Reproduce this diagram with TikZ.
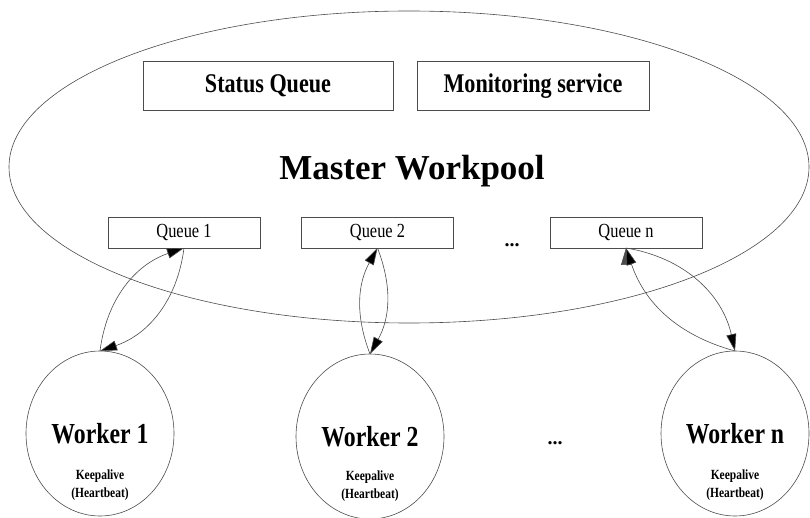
\documentclass[tikz,border=0pt]{standalone}
\usepackage{fontspec}
\setmainfont{Liberation Serif}
\newfontfamily\narrowserif{Liberation Serif}[FakeStretch=0.82]
\usepackage{tikz}
\usetikzlibrary{shapes.geometric,arrows.meta}

\tikzset{
  frame/.style={draw=black!70, line width=0.6pt, inner sep=0pt, outer sep=0pt},
  svcbox/.style={frame, minimum height=49pt, font=\narrowserif\fontsize{27}{32}\selectfont\bfseries},
  qbox/.style={frame, minimum width=152pt, minimum height=31pt, font=\narrowserif\fontsize{20}{24}\selectfont},
  worker/.style={frame, ellipse, minimum width=148pt, minimum height=165pt},
  wname/.style={anchor=base, font=\narrowserif\fontsize{29}{34}\selectfont\bfseries},
  wnote/.style={anchor=base, font=\narrowserif\fontsize{14}{16}\selectfont\bfseries},
  dots/.style={anchor=base, font=\fontsize{20}{24}\selectfont\bfseries},
  link/.style={draw=black!70, line width=0.6pt, -{Triangle[length=17pt,width=10pt]}}
}

\begin{document}
\begin{tikzpicture}[x=1pt,y=1pt]
        \useasboundingbox (0,0) rectangle (810,517);
        % master pool
        \draw[black!70, line width=0.6pt] (409,350) ellipse [x radius=400, y radius=156];
        \node[svcbox, minimum width=250pt] (status) at (268,431) {Status Queue};
        \node[svcbox, minimum width=232pt] (monitor) at (533,431) {Monitoring service};
        \node[font=\fontsize{35}{42}\selectfont\bfseries] (master) at (412,346) {Master Workpool};
        \node[qbox] (q1) at (184,284.5) {Queue 1};
        \node[qbox] (q2) at (377.5,284.5) {Queue 2};
        \node[qbox] (qn) at (626,284.5) {Queue n};
        \node[dots] (qdots) at (512,270) {...};
        % workers
        \node[worker] (w1) at (100,83.5) {};
        \node[worker] (w2) at (370,80.5) {};
        \node[worker] (wn) at (735,83.5) {};
        \node[wname] (w1name) at (100,74) {Worker 1};
        \node[wname] (w2name) at (370,71) {Worker 2};
        \node[wname] (wnname) at (735,74) {Worker n};
        \node[wnote] (w1keep) at (100,38) {Keepalive};
        \node[wnote] (w2keep) at (370,37) {Keepalive};
        \node[wnote] (wnkeep) at (735,38) {Keepalive};
        \node[wnote] (w1beat) at (100,20) {(Heartbeat)};
        \node[wnote] (w2beat) at (370,19) {(Heartbeat)};
        \node[wnote] (wnbeat) at (735,20) {(Heartbeat)};
        \node[dots] (wdots) at (555,73) {...};
        \path[link]
        (w1.north) edge[bend left=32] (q1.south)
        (q1.south) edge[bend left=32] (w1.north)
        (w2.north) edge[bend left=25] (q2.south)
        (q2.south) edge[bend left=25] (w2.north)
        (wn.north) edge[bend left=28] (qn.south)
        (qn.south) edge[bend left=34] (wn.north)
        ;
\end{tikzpicture}
\end{document}
